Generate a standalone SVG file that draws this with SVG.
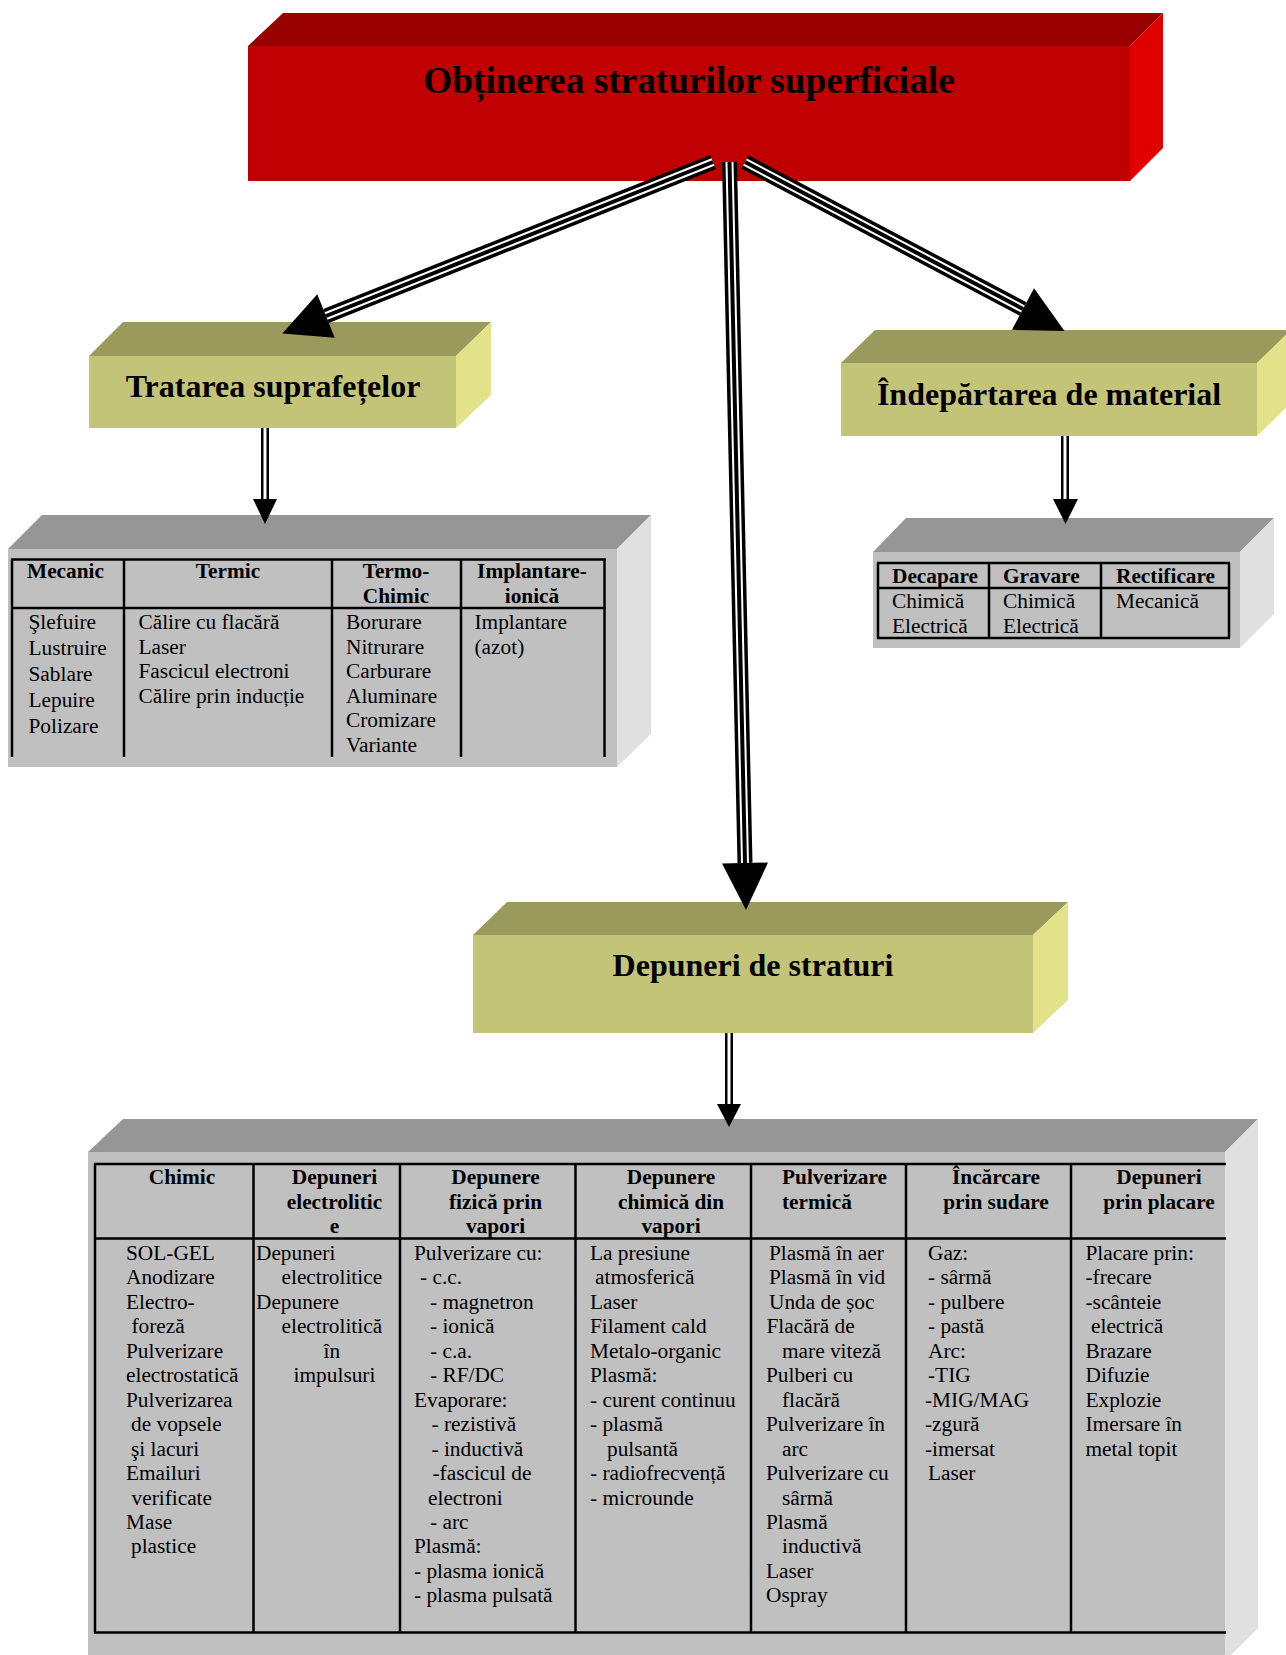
<svg xmlns="http://www.w3.org/2000/svg" xmlns:xlink="http://www.w3.org/1999/xlink" width="1286" height="1655" viewBox="0 0 1286 1655">
  <style>
    .t { font-family: "Liberation Serif", "Times New Roman", serif; fill: #000; }
    .title { font-size: 37.33px; font-weight: bold; }
    .sub { font-size: 32px; font-weight: bold; }
    .cell { font-size: 21.33px; }
    .hd { font-size: 21.33px; font-weight: bold; }
    .mid { text-anchor: middle; }
    .grid { stroke: #000; stroke-width: 2.5; fill: none; }
    .red-f { fill: #C00000; } .red-t { fill: #990000; } .red-s { fill: #E00000; }
    .ol-f { fill: #C4C479; } .ol-t { fill: #9A9A5D; } .ol-s { fill: #E2E28A; }
    .gr-f { fill: #C0C0C0; } .gr-t { fill: #969696; } .gr-s { fill: #E0E0E0; }
    .l3a { stroke: #000; stroke-width: 15; fill: none; stroke-linecap: butt; }
    .l3b { stroke: #fff; stroke-width: 8; fill: none; stroke-linecap: butt; }
    .l3c { stroke: #000; stroke-width: 4; fill: none; stroke-linecap: butt; }
    .l2a { stroke: #000; stroke-width: 8; fill: none; stroke-linecap: butt; }
    .l2b { stroke: #fff; stroke-width: 3; fill: none; stroke-linecap: butt; }
    .head { fill: #000; }
  </style>
  <defs>
    <path id="p-left" d="M713,162 L326,316"/>
    <path id="p-center" d="M729.5,162 L745,863"/>
    <path id="p-right" d="M745,162 L1023,309"/>
    <path id="p-a" d="M265,428 L265,500"/>
    <path id="p-b" d="M1065,436 L1065,500"/>
    <path id="p-c" d="M729,1033 L729,1105"/>
  </defs>

  <rect width="1286" height="1655" fill="#fff"/>

  <!-- root box -->
  <g id="node-root">
    <polygon class="red-t" points="248,46 283,13 1163,13 1130,46"/>
    <polygon class="red-s" points="1130,46 1163,13 1163,148 1130,181"/>
    <rect class="red-f" x="248" y="46" width="882" height="135"/>
    <text class="t title mid" x="689" y="93">Obținerea straturilor superficiale</text>
  </g>

  <!-- surface treatment -->
  <g id="node-tratare">
    <polygon class="ol-t" points="89,356 123,322 491,322 456,356"/>
    <polygon class="ol-s" points="456,356 491,322 491,395 456,428"/>
    <rect class="ol-f" x="89" y="356" width="367" height="72"/>
    <text class="t sub mid" x="273" y="397">Tratarea suprafețelor</text>
  </g>

  <!-- material removal -->
  <g id="node-indepartare">
    <polygon class="ol-t" points="841,363 875,330 1291,330 1257,363"/>
    <polygon class="ol-s" points="1257,363 1291,330 1291,403 1257,436"/>
    <rect class="ol-f" x="841" y="363" width="416" height="73"/>
    <text class="t sub mid" x="1049" y="405">Îndepărtarea de material</text>
  </g>

  <!-- layer deposition -->
  <g id="node-depuneri">
    <polygon class="ol-t" points="473,935 507,902 1068,902 1033,935"/>
    <polygon class="ol-s" points="1033,935 1068,902 1068,1000 1033,1033"/>
    <rect class="ol-f" x="473" y="935" width="560" height="98"/>
    <text class="t sub mid" x="753" y="976">Depuneri de straturi</text>
  </g>

  <!-- treatment table -->
  <g id="node-tbl-tratare">
    <polygon class="gr-t" points="8,549 42,515 651,515 617,549"/>
    <polygon class="gr-s" points="617,549 651,515 651,734 617,767"/>
    <rect class="gr-f" x="8" y="549" width="609" height="218"/>
    <path class="grid" d="M11,559.5 H606 M11,608 H606 M12,559.5 V757 M124,559.5 V757 M332,559.5 V757 M461,559.5 V757 M604.5,559.5 V757"/>
    <text class="t hd mid" x="65.5" y="578">Mecanic</text>
    <text class="t hd mid" x="228" y="578">Termic</text>
    <text class="t hd mid" x="396" y="578">Termo-<tspan x="396" dy="25">Chimic</tspan></text>
    <text class="t hd mid" x="532" y="578">Implantare-<tspan x="532" dy="25">ionică</tspan></text>
    <text class="t cell" y="629">
      <tspan x="28.5">Şlefuire</tspan>
      <tspan x="28.5" dy="26">Lustruire</tspan>
      <tspan x="28.5" dy="26">Sablare</tspan>
      <tspan x="28.5" dy="26">Lepuire</tspan>
      <tspan x="28.5" dy="26">Polizare</tspan>
    </text>
    <text class="t cell" y="629">
      <tspan x="138.5">Călire cu flacără</tspan>
      <tspan x="138.5" dy="24.6">Laser</tspan>
      <tspan x="138.5" dy="24.6">Fascicul electroni</tspan>
      <tspan x="138.5" dy="24.6">Călire prin inducție</tspan>
    </text>
    <text class="t cell" y="629">
      <tspan x="346">Borurare</tspan>
      <tspan x="346" dy="24.6">Nitrurare</tspan>
      <tspan x="346" dy="24.6">Carburare</tspan>
      <tspan x="346" dy="24.6">Aluminare</tspan>
      <tspan x="346" dy="24.6">Cromizare</tspan>
      <tspan x="346" dy="24.6">Variante</tspan>
    </text>
    <text class="t cell" y="629">
      <tspan x="474.5">Implantare</tspan>
      <tspan x="474.5" dy="24.6">(azot)</tspan>
    </text>
  </g>

  <!-- removal table -->
  <g id="node-tbl-indepartare">
    <polygon class="gr-t" points="873,552 906,518 1274,518 1240,552"/>
    <polygon class="gr-s" points="1240,552 1274,518 1274,614 1240,648"/>
    <rect class="gr-f" x="873" y="552" width="367" height="96"/>
    <path class="grid" d="M877,563 H1230 M877,588 H1230 M877,638 H1230 M878,563 V638 M989,563 V638 M1101,563 V638 M1229,563 V638"/>
    <text class="t hd" x="892" y="583">Decapare</text>
    <text class="t hd" x="1003" y="583">Gravare</text>
    <text class="t hd" x="1116" y="583">Rectificare</text>
    <text class="t cell" y="608"><tspan x="892">Chimică</tspan><tspan x="892" dy="25">Electrică</tspan></text>
    <text class="t cell" y="608"><tspan x="1003">Chimică</tspan><tspan x="1003" dy="25">Electrică</tspan></text>
    <text class="t cell" x="1116" y="608">Mecanică</text>
  </g>

  <!-- deposition table -->
  <g id="node-tbl-depuneri">
    <polygon class="gr-t" points="88,1152 123,1119 1258,1119 1225,1152"/>
    <polygon class="gr-s" points="1225,1152 1258,1119 1258,1628 1225,1661"/>
    <rect class="gr-f" x="88" y="1152" width="1137" height="510"/>
    <path class="grid" d="M94,1164 H1226 M94,1238.5 H1226 M94,1632.5 H1226 M95,1164 V1632.5 M253.5,1164 V1632.5 M400,1164 V1632.5 M575.5,1164 V1632.5 M751,1164 V1632.5 M906,1164 V1632.5 M1071,1164 V1632.5"/>

    <text class="t hd mid" x="182" y="1184">Chimic</text>
    <text class="t hd mid" x="334.5" y="1184">Depuneri<tspan x="334.5" dy="24.5">electrolitic</tspan><tspan x="334.5" dy="24.5">e</tspan></text>
    <text class="t hd mid" x="495.5" y="1184">Depunere<tspan x="495.5" dy="24.5">fizică prin</tspan><tspan x="495.5" dy="24.5">vapori</tspan></text>
    <text class="t hd mid" x="671" y="1184">Depunere<tspan x="671" dy="24.5">chimică din</tspan><tspan x="671" dy="24.5">vapori</tspan></text>
    <text class="t hd" x="782" y="1184">Pulverizare<tspan x="782" dy="24.5">termică</tspan></text>
    <text class="t hd mid" x="996" y="1184">Încărcare<tspan x="996" dy="24.5">prin sudare</tspan></text>
    <text class="t hd mid" x="1159" y="1184">Depuneri<tspan x="1159" dy="24.5">prin placare</tspan></text>

    <text class="t cell" y="1260">
      <tspan x="126">SOL-GEL</tspan>
      <tspan x="126" dy="24.45">Anodizare</tspan>
      <tspan x="126" dy="24.45">Electro-</tspan>
      <tspan x="131.5" dy="24.45">foreză</tspan>
      <tspan x="126" dy="24.45">Pulverizare</tspan>
      <tspan x="126" dy="24.45">electrostatică</tspan>
      <tspan x="126" dy="24.45">Pulverizarea</tspan>
      <tspan x="131" dy="24.45">de vopsele</tspan>
      <tspan x="131" dy="24.45">şi lacuri</tspan>
      <tspan x="126" dy="24.45">Emailuri</tspan>
      <tspan x="131.5" dy="24.45">verificate</tspan>
      <tspan x="126" dy="24.45">Mase</tspan>
      <tspan x="131" dy="24.45">plastice</tspan>
    </text>
    <text class="t cell" y="1260">
      <tspan x="256">Depuneri</tspan>
      <tspan x="334.5" dy="24.45" text-anchor="middle">electrolitice</tspan>
      <tspan x="256" dy="24.45">Depunere</tspan>
      <tspan x="334.5" dy="24.45" text-anchor="middle">electrolitică</tspan>
      <tspan x="334.5" dy="24.45" text-anchor="middle">în</tspan>
      <tspan x="334.5" dy="24.45" text-anchor="middle">impulsuri</tspan>
    </text>
    <text class="t cell" y="1260">
      <tspan x="414">Pulverizare cu:</tspan>
      <tspan x="420" dy="24.45">- c.c.</tspan>
      <tspan x="430" dy="24.45">- magnetron</tspan>
      <tspan x="430" dy="24.45">- ionică</tspan>
      <tspan x="430" dy="24.45">- c.a.</tspan>
      <tspan x="430" dy="24.45">- RF/DC</tspan>
      <tspan x="414" dy="24.45">Evaporare:</tspan>
      <tspan x="431.5" dy="24.45">- rezistivă</tspan>
      <tspan x="431.5" dy="24.45">- inductivă</tspan>
      <tspan x="432.5" dy="24.45">-fascicul de</tspan>
      <tspan x="428" dy="24.45">electroni</tspan>
      <tspan x="430" dy="24.45">- arc</tspan>
      <tspan x="414" dy="24.45">Plasmă:</tspan>
      <tspan x="414" dy="24.45">- plasma ionică</tspan>
      <tspan x="414" dy="24.45">- plasma pulsată</tspan>
    </text>
    <text class="t cell" y="1260">
      <tspan x="590">La presiune</tspan>
      <tspan x="595" dy="24.45">atmosferică</tspan>
      <tspan x="590" dy="24.45">Laser</tspan>
      <tspan x="590" dy="24.45">Filament cald</tspan>
      <tspan x="590" dy="24.45">Metalo-organic</tspan>
      <tspan x="590" dy="24.45">Plasmă:</tspan>
      <tspan x="590" dy="24.45">- curent continuu</tspan>
      <tspan x="590" dy="24.45">- plasmă</tspan>
      <tspan x="607" dy="24.45">pulsantă</tspan>
      <tspan x="590" dy="24.45">- radiofrecvență</tspan>
      <tspan x="590" dy="24.45">- microunde</tspan>
    </text>
    <text class="t cell" y="1260">
      <tspan x="769">Plasmă în aer</tspan>
      <tspan x="769" dy="24.45">Plasmă în vid</tspan>
      <tspan x="769" dy="24.45">Unda de șoc</tspan>
      <tspan x="766.5" dy="24.45">Flacără de</tspan>
      <tspan x="782" dy="24.45">mare viteză</tspan>
      <tspan x="766" dy="24.45">Pulberi cu</tspan>
      <tspan x="782" dy="24.45">flacără</tspan>
      <tspan x="766" dy="24.45">Pulverizare în</tspan>
      <tspan x="782" dy="24.45">arc</tspan>
      <tspan x="766" dy="24.45">Pulverizare cu</tspan>
      <tspan x="782" dy="24.45">sârmă</tspan>
      <tspan x="766" dy="24.45">Plasmă</tspan>
      <tspan x="782" dy="24.45">inductivă</tspan>
      <tspan x="766" dy="24.45">Laser</tspan>
      <tspan x="766" dy="24.45">Ospray</tspan>
    </text>
    <text class="t cell" y="1260">
      <tspan x="928">Gaz:</tspan>
      <tspan x="928" dy="24.45">- sârmă</tspan>
      <tspan x="928" dy="24.45">- pulbere</tspan>
      <tspan x="928" dy="24.45">- pastă</tspan>
      <tspan x="928" dy="24.45">Arc:</tspan>
      <tspan x="928" dy="24.45">-TIG</tspan>
      <tspan x="925" dy="24.45">-MIG/MAG</tspan>
      <tspan x="925" dy="24.45">-zgură</tspan>
      <tspan x="925" dy="24.45">-imersat</tspan>
      <tspan x="928" dy="24.45">Laser</tspan>
    </text>
    <text class="t cell" y="1260">
      <tspan x="1085.5">Placare prin:</tspan>
      <tspan x="1085.5" dy="24.45">-frecare</tspan>
      <tspan x="1085.5" dy="24.45">-scânteie</tspan>
      <tspan x="1091" dy="24.45">electrică</tspan>
      <tspan x="1085.5" dy="24.45">Brazare</tspan>
      <tspan x="1085.5" dy="24.45">Difuzie</tspan>
      <tspan x="1085.5" dy="24.45">Explozie</tspan>
      <tspan x="1085.5" dy="24.45">Imersare în</tspan>
      <tspan x="1085.5" dy="24.45">metal topit</tspan>
    </text>
  </g>

  <!-- connectors: triple-line arrows from the root, double-line arrows to the tables -->
  <g id="connectors">
    <use xlink:href="#p-left" class="l3a"/><use xlink:href="#p-left" class="l3b"/><use xlink:href="#p-left" class="l3c"/>
    <polygon class="head" points="282.3,333.4 334.7,337.8 317.3,294.2"/>

    <use xlink:href="#p-center" class="l3a"/><use xlink:href="#p-center" class="l3b"/><use xlink:href="#p-center" class="l3c"/>
    <polygon class="head" points="746,910 768,862.5 722,863.5"/>

    <use xlink:href="#p-right" class="l3a"/><use xlink:href="#p-right" class="l3b"/><use xlink:href="#p-right" class="l3c"/>
    <polygon class="head" points="1064.5,331 1012,329.8 1034,288.2"/>

    <use xlink:href="#p-a" class="l2a"/><use xlink:href="#p-a" class="l2b"/>
    <polygon class="head" points="253,499 277,499 265,524"/>

    <use xlink:href="#p-b" class="l2a"/><use xlink:href="#p-b" class="l2b"/>
    <polygon class="head" points="1053,499 1078,499 1065.5,524"/>

    <use xlink:href="#p-c" class="l2a"/><use xlink:href="#p-c" class="l2b"/>
    <polygon class="head" points="717,1104 741,1104 729,1127"/>
  </g>
</svg>
